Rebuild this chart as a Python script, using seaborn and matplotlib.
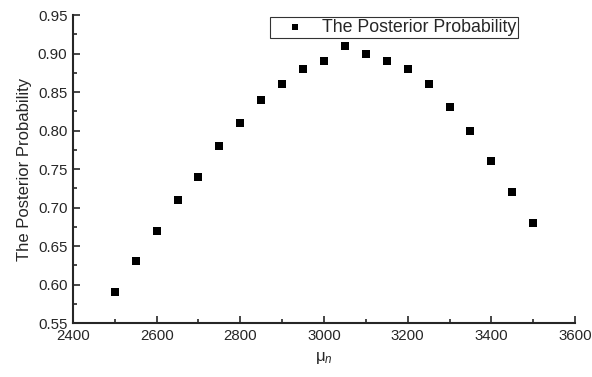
import numpy as np
import pandas as pd
import matplotlib
matplotlib.use("Agg")
import matplotlib.pyplot as plt
import seaborn as sns
from matplotlib.ticker import MultipleLocator, FormatStrFormatter

# data
mu_n = [2500, 2550, 2600, 2650, 2700, 2750, 2800, 2850, 2900, 2950, 3000,
        3050, 3100, 3150, 3200, 3250, 3300, 3350, 3400, 3450, 3500]
posterior = [0.59, 0.63, 0.67, 0.71, 0.74, 0.78, 0.81, 0.84, 0.86, 0.88, 0.89,
             0.91, 0.90, 0.89, 0.88, 0.86, 0.83, 0.80, 0.76, 0.72, 0.68]

df = pd.DataFrame({"mu": mu_n, "p": posterior})

sns.set_style("ticks")
plt.rcParams["font.family"] = ["Liberation Sans", "DejaVu Sans"]
plt.rcParams["mathtext.fontset"] = "custom"
plt.rcParams["mathtext.it"] = "Liberation Sans:italic"
plt.rcParams["mathtext.rm"] = "Liberation Sans"

fig = plt.figure(figsize=(5.92, 3.77), dpi=100)
ax = fig.add_axes([0.1233, 0.1432, 0.848, 0.817])

sns.scatterplot(data=df, x="mu", y="p", marker="s", s=28, color="black",
                edgecolor="black", linewidth=0, label="The Posterior Probability", ax=ax)

ax.set_xlim(2400, 3600)
ax.set_ylim(0.55, 0.95)
ax.xaxis.set_major_locator(MultipleLocator(200))
ax.xaxis.set_minor_locator(MultipleLocator(100))
ax.yaxis.set_major_locator(MultipleLocator(0.05))
ax.yaxis.set_minor_locator(MultipleLocator(0.025))
ax.yaxis.set_major_formatter(FormatStrFormatter("%.2f"))

ax.tick_params(which="both", direction="in", labelsize=10.8, width=1.2)
ax.tick_params(which="major", length=5)
ax.tick_params(which="minor", length=3)
ax.tick_params(axis="y", pad=4)
ax.tick_params(axis="x", pad=4.5)
for side in ["left", "bottom"]:
    ax.spines[side].set_linewidth(1.5)
sns.despine(ax=ax)

ax.set_xlabel("μ$_n$", fontsize=12, labelpad=5)
ax.set_ylabel("The Posterior Probability", fontsize=12, labelpad=4)

leg = ax.legend(loc="upper left", bbox_to_anchor=(270 / 592, 1 - 17 / 377),
                bbox_transform=fig.transFigure,
                frameon=True, fancybox=False, edgecolor="black", fontsize=12.75,
                handlelength=2.6, handletextpad=0.25, borderpad=0.1,
                borderaxespad=0, markerscale=0.8)
leg.get_frame().set_linewidth(0.8)

fig.savefig("out.png", dpi=100)
